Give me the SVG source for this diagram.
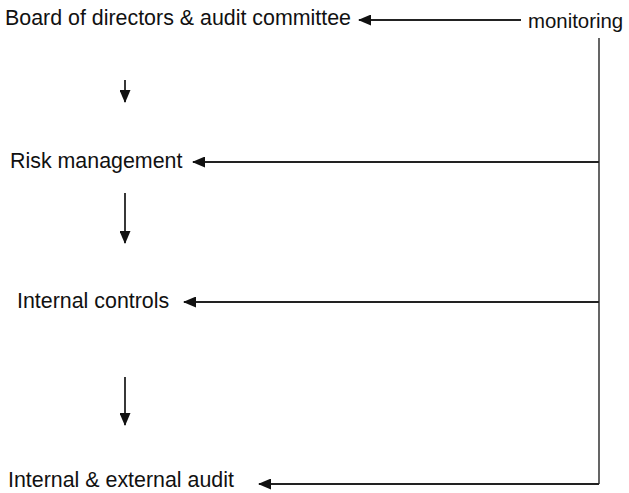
<svg xmlns="http://www.w3.org/2000/svg" width="629" height="493" viewBox="0 0 629 493">
<style>
text{font-family:"Liberation Sans",Arial,sans-serif;font-size:21.4px;fill:#111}
.ln{stroke:#222;stroke-width:1.8;fill:none}
.vl{stroke:#555;stroke-width:1.8;fill:none}
</style>
<defs>
<marker id="ah" viewBox="0 0 13 11" refX="12" refY="5.5" markerWidth="13" markerHeight="11" markerUnits="userSpaceOnUse" orient="auto">
<path d="M0,0 L13,5.5 L0,11 Z" fill="#111"/>
</marker>
</defs>
<rect width="629" height="493" fill="#fff"/>
<g id="board"><text x="5" y="25">Board of directors &amp; audit committee</text></g>
<g id="monitoring"><text x="528" y="28" style="font-size:20.4px">monitoring</text></g>
<g id="risk"><text x="10" y="168">Risk management</text></g>
<g id="controls"><text x="17" y="308">Internal controls</text></g>
<g id="audit"><text x="8" y="487">Internal &amp; external audit</text></g>
<g id="connectors">
<path class="ln" d="M521,20 H359" marker-end="url(#ah)"/>
<path class="vl" d="M599,38 V484"/>
<path class="ln" d="M599,162 H193" marker-end="url(#ah)"/>
<path class="ln" d="M599,302 H184" marker-end="url(#ah)"/>
<path class="ln" d="M599,484 H259" marker-end="url(#ah)"/>
<path class="ln" d="M125,80 V102" marker-end="url(#ah)"/>
<path class="ln" d="M125,193 V243" marker-end="url(#ah)"/>
<path class="ln" d="M125,377 V425" marker-end="url(#ah)"/>
</g>
</svg>
